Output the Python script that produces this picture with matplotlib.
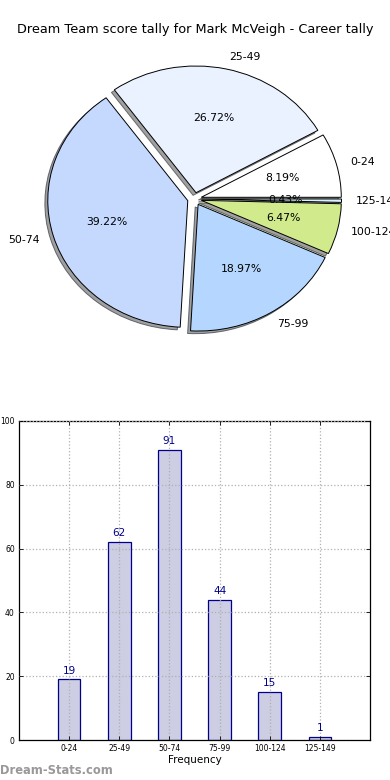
import matplotlib
matplotlib.use("Agg")
import matplotlib.pyplot as plt
import numpy as np

categories = ["0-24", "25-49", "50-74", "75-99", "100-124", "125-149"]
counts = [19, 62, 91, 44, 15, 1]
pie_colors = ["#ffffff", "#eaf2ff", "#c5d9ff", "#b5d7ff", "#d0ea8c", "#d6f4ff"]
title = "Dream Team score tally for Mark McVeigh - Career tally"
yticks = [0, 20, 40, 60, 80, 100]

fig = plt.figure(figsize=(3.9, 7.8), dpi=100)

# ---- Pie ----
ax1 = fig.add_axes([0, 1 - 400 / 780, 1, 400 / 780])
wedges, texts, autotexts = ax1.pie(
    counts, labels=categories, colors=pie_colors, explode=[0.05] * len(counts),
    autopct="%.2f%%", pctdistance=0.6, labeldistance=1.1, startangle=0,
    shadow={"ox": -0.015, "oy": -0.015, "facecolor": "#808080", "alpha": 0.75},
    wedgeprops={"edgecolor": "black", "linewidth": 0.7},
    textprops={"fontsize": 7.8})
ax1.set_aspect("auto")
ax1.set_xlim(-194.5 / 140, (390 - 194.5) / 140)
ax1.set_ylim(-(400 - 198.9) / 126.7, 198.9 / 126.7)
ax1.axis("off")
fig.text(0.5, 1 - 30 / 780, title, ha="center", va="center", fontsize=9.3)

# ---- Bar ----
ax2 = fig.add_axes([19 / 390, 40 / 780, 351 / 390, 319 / 780])
x = np.arange(len(categories))
bars = ax2.bar(x, counts, width=0.45, color="#cdcde3", edgecolor="#00008b", linewidth=0.9, zorder=1)
for xi, v in zip(x, counts):
    ax2.text(xi, v + 1.2, str(v), ha="center", va="bottom", color="#00008b", fontsize=7.5)
ax2.set_xlim(-1, 6)
ax2.set_ylim(0, 100)
ax2.set_xticks(x)
ax2.set_xticklabels(categories, fontsize=5.5)
ax2.set_yticks(yticks)
ax2.set_yticklabels([str(t) for t in yticks], fontsize=5.5)
ax2.tick_params(direction="in", top=True, right=True, length=3, width=0.6, pad=3)
ax2.grid(True, linestyle=":", color="#b0b0b0", linewidth=0.9, zorder=3)
ax2.set_axisbelow(False)
ax2.set_xlabel("Frequency", fontsize=7.5, labelpad=1)
for s in ax2.spines.values():
    s.set_linewidth(0.9)

fig.text(0.0, 1 - 771 / 780, "Dream-Stats.com", ha="left", va="center",
         fontsize=8.3, color="#999999", fontweight="bold")

fig.savefig("out.png", dpi=100)
